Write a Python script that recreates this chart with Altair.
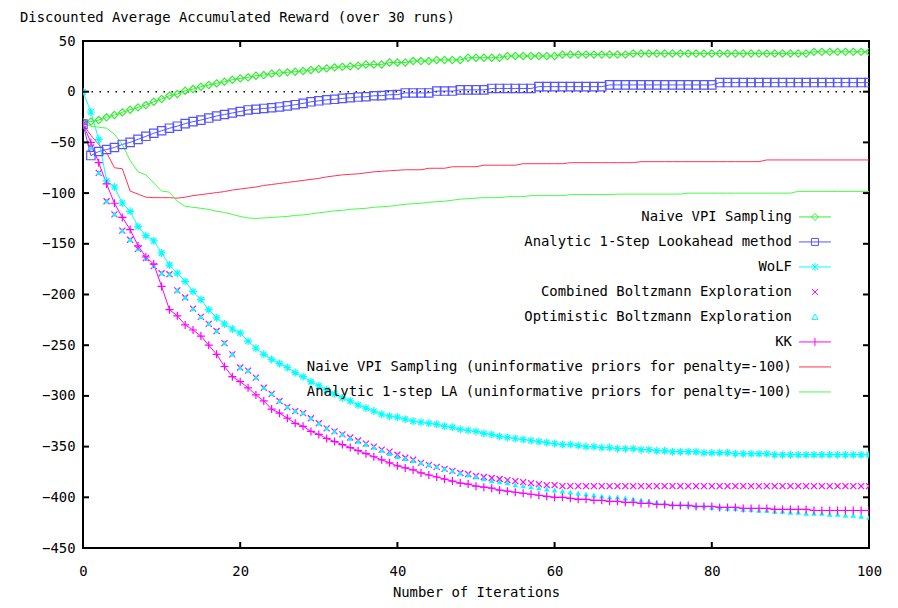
import altair as alt
import pandas as pd

iterations = list(range(101))

naive_vpi = [
    -30, -29.5, -28, -25.3, -23, -20.4, -17.8, -15.5, -13.2, -9.9,
    -7.2, -3.9, -2.3, 1, 2.6, 4.9, 6.6, 8.2, 9.9, 11.8,
    13.1, 14.1, 15.8, 16.4, 17.8, 18.4, 19.1, 19.7, 20.4, 21.4,
    22.4, 23, 24, 24.5, 25, 25.6, 26.8, 26.8, 26.8, 28.8,
    28.8, 28.8, 30.2, 30.2, 30.2, 31.3, 31.3, 31.3, 31.3, 33.5,
    33.5, 33.5, 33.5, 33.5, 35.2, 35.2, 35.2, 35.2, 35.2, 35.2,
    35.2, 36.6, 36.6, 36.6, 36.6, 36.6, 36.6, 36.6, 36.6, 36.6,
    37.7, 37.7, 37.7, 37.7, 37.7, 37.7, 37.7, 37.7, 37.7, 37.7,
    37.7, 37.7, 37.7, 37.7, 37.7, 37.7, 37.7, 37.7, 37.7, 37.7,
    37.7, 37.7, 37.7, 39.3, 39.3, 39.3, 39.3, 39.3, 39.3, 39.3,
    39.3,
]

analytic_la = [
    -32, -63, -59, -57, -55, -52, -50, -47, -44, -41,
    -38.5, -36, -34, -31.5, -29.5, -28, -26, -24, -22.5, -21,
    -19.5, -18, -17.3, -16.5, -15.8, -15, -14, -12.8, -11.5, -10,
    -9, -8, -7.5, -6.6, -6, -5.3, -5, -4, -3.9, -3,
    -2.9, -1.2, -1.2, -1.2, -1.2, 0.6, 0.6, 0.6, 1.8, 1.8,
    1.8, 1.8, 3.2, 3.2, 3.2, 3.2, 3.2, 3.2, 5, 5,
    5, 5, 5, 5, 5, 5, 5, 6.7, 6.7, 6.7,
    6.7, 6.7, 6.7, 6.7, 6.7, 6.7, 6.7, 6.7, 6.7, 6.7,
    6.7, 9, 9, 9, 9, 9, 9, 9, 9, 9,
    9, 9, 9, 9, 9, 9, 9, 9, 9, 9,
    9,
]

wolf = [
    0, -20, -47, -88, -94, -110, -118, -133, -142, -147,
    -159, -171, -179, -187, -197, -205, -215, -223, -229, -234,
    -238, -246, -253, -259, -264, -268, -272, -277, -281, -286,
    -290, -294, -298, -302, -305, -309, -312, -315, -318, -320,
    -321, -323, -325, -326, -327, -328, -330, -331, -333, -334,
    -335, -337, -338, -340, -341, -342, -343, -344, -345, -346,
    -347, -348, -348, -349, -350, -350, -351, -351, -352, -352,
    -352, -353, -353, -354, -354, -355, -355, -355, -355, -356,
    -356, -356, -356, -357, -357, -357, -357, -357, -358, -358,
    -358, -358, -358, -358, -358, -358, -358, -358, -358, -358,
    -358,
]

combined_boltzmann = [
    -32, -55, -80, -108, -121, -137, -146, -155, -164, -172,
    -179, -180, -196, -203, -214, -222, -229, -236, -248, -259,
    -272, -275, -282, -292, -298, -305, -311, -315, -317, -322,
    -327, -332, -335, -338, -341, -344, -347, -350, -353, -355,
    -358, -361, -363, -366, -368, -370, -372, -374, -376, -377,
    -379, -380, -381, -382, -383, -384, -385, -386, -387, -388,
    -388, -389, -389, -389, -389, -389, -389, -389, -389, -389,
    -389, -389, -389, -389, -389, -389, -389, -389, -389, -389,
    -389, -389, -389, -389, -389, -389, -389, -389, -389, -389,
    -389, -389, -389, -389, -389, -389, -389, -389, -389, -389,
    -389,
]

optimistic_boltzmann = [
    -32, -55, -80, -108, -121, -137, -146, -155, -164, -172,
    -179, -180, -196, -203, -214, -222, -229, -236, -248, -259,
    -272, -275, -282, -292, -298, -305, -311, -315, -317, -322,
    -327, -332, -335, -338, -342, -345, -348, -351, -354, -357,
    -360, -362, -364, -366, -368, -370, -372, -374, -376, -378,
    -380, -382, -384, -385, -386, -388, -389, -390, -391, -392,
    -393, -394, -395, -396, -397, -398, -399, -400, -400, -401,
    -402, -403, -404, -405, -406, -407, -407, -408, -409, -409,
    -410, -410, -411, -411, -412, -412, -413, -413, -414, -414,
    -415, -415, -416, -416, -416, -417, -417, -418, -418, -419,
    -420,
]

kk = [
    -32, -50, -70, -91, -110, -124, -136, -152, -163, -170,
    -192, -215, -221, -230, -235, -241, -250, -259, -271, -281,
    -286, -292, -299, -305, -313, -317, -322, -327, -330, -335,
    -338, -342, -345, -348, -351, -354, -357, -360, -363, -366,
    -369, -371, -373, -376, -378, -380, -382, -384, -386, -387,
    -389, -390, -391, -393, -394, -395, -396, -397, -398, -399,
    -400, -400, -401, -402, -402, -403, -403, -404, -404, -405,
    -405, -406, -406, -407, -407, -408, -408, -408, -409, -409,
    -409, -410, -410, -410, -411, -411, -411, -411, -412, -412,
    -412, -412, -412, -413, -413, -413, -413, -413, -413, -413,
    -413,
]

naive_vpi_uninf = [
    -32, -43, -52, -60, -75, -76, -98, -101, -104, -104.5,
    -104.5, -104.5, -105, -104, -102.5, -101.5, -100.5, -99.5, -98.5, -97,
    -96, -95, -94, -92.5, -91.5, -90.5, -89.5, -88.5, -87.5, -86.5,
    -85.5, -84, -83, -82, -81.5, -81, -80, -79, -78.5, -78,
    -77.5, -77, -77, -77, -75.5, -75.5, -75.5, -74, -74, -74,
    -74, -72.5, -72.5, -72.5, -72.5, -72.5, -71, -71, -71, -71,
    -71, -71, -70, -70, -70, -70, -70, -70, -70, -70,
    -70, -69, -69, -69, -69, -69, -69, -69, -69, -69,
    -69, -69, -69, -69, -69, -69, -69, -67.3, -67.3, -67.3,
    -67.3, -67.3, -67.3, -67.3, -67.3, -67.3, -67.3, -67.3, -67.3, -67.3,
    -67.3,
]

analytic_la_uninf = [
    -30, -34, -35, -36, -42, -52, -68, -79, -82, -90,
    -98, -99, -108, -113, -114, -115, -116, -118, -119, -121,
    -123, -124.5, -125, -124.5, -124, -123.5, -123, -122, -121.5, -120.5,
    -119.5, -118.5, -117.5, -117, -116, -115.5, -115, -114, -113.5, -113,
    -112, -111, -110.5, -110, -109, -108.5, -108, -107, -106, -105.5,
    -105, -104.5, -104.5, -104.5, -103.5, -103.5, -103.5, -102.5, -102.5, -102.5,
    -102.5, -102.5, -101.5, -101.5, -101.5, -101.5, -101.5, -101.5, -101, -101,
    -101, -101, -101, -101, -101, -101, -101, -100, -100, -100,
    -100, -100, -100, -100, -100, -100, -100, -100, -100, -100,
    -100, -98.3, -98.3, -98.3, -98.3, -98.3, -98.3, -98.3, -98.3, -98.3,
    -98.3,
]

series_names = [
    "Naive VPI Sampling",
    "Analytic 1-Step Lookahead method",
    "WoLF",
    "Combined Boltzmann Exploration",
    "Optimistic Boltzmann Exploration",
    "KK",
    "Naive VPI Sampling (uninformative priors for penalty=-100)",
    "Analytic 1-step LA (uninformative priors for penalty=-100)",
]
series_values = [naive_vpi, analytic_la, wolf, combined_boltzmann,
                 optimistic_boltzmann, kk, naive_vpi_uninf, analytic_la_uninf]
series_colors = ["#33ee33", "#5555ff", "#00ffff", "#ff00ff",
                 "#00ffff", "#ff00ff", "#ff3355", "#44ff44"]

x_ticks = [0, 20, 40, 60, 80, 100]
y_ticks = [-450, -400, -350, -300, -250, -200, -150, -100, -50, 0, 50]
zero_level = [0]

rows = []
for name, vals in zip(series_names, series_values):
    for it, v in zip(iterations, vals):
        rows.append({"series": name, "iteration": it, "reward": v})
df = pd.DataFrame(rows)

W, H = 786, 507
FONT = "DejaVu Sans Mono"
FS = 13.9

x_scale = alt.Scale(domain=[0, 100], nice=False, zero=False)
y_scale = alt.Scale(domain=[-450, 50], nice=False, zero=False)
x_enc = alt.X("iteration:Q", scale=x_scale,
              axis=alt.Axis(values=x_ticks, title="Number of Iterations", grid=False,
                            ticks=False, tickSize=0, domain=False, labelPadding=16,
                            titlePadding=8, labelFont=FONT, labelFontSize=FS,
                            titleFont=FONT, titleFontSize=FS, titleFontWeight="normal",
                            labelColor="black", titleColor="black", labelFlush=False))
y_enc = alt.Y("reward:Q", scale=y_scale,
              axis=alt.Axis(values=y_ticks, title=None, grid=False, ticks=False,
                            tickSize=0, domain=False, labelPadding=8, labelFont=FONT,
                            labelFontSize=FS, labelColor="black", labelFlush=False))

color_scale = alt.Scale(domain=series_names, range=series_colors)

legend_paths = [
    "M-3.2,0H3.2M0,-0.7L0.7,0L0,0.7L-0.7,0Z",
    "M-3.2,0H3.2M-0.7,-0.7H0.7V0.7H-0.7Z",
    "M-3.2,0H3.2M0,-0.8V0.8M-0.6,-0.6L0.6,0.6M-0.6,0.6L0.6,-0.6",
    "M-0.6,-0.6L0.6,0.6M-0.6,0.6L0.6,-0.6",
    "M0,-0.6L0.6,0.5H-0.6Z",
    "M-3.2,0H3.2M0,-0.8V0.8",
    "M-3.2,0H3.2",
    "M-3.2,0H3.2",
]
leg = alt.Legend(title=None, orient="none", legendX=725, legendY=169,
                 labelAlign="right", labelOffset={"expr": "-30"}, labelFont=FONT,
                 labelFontSize=FS, labelColor="black", labelLimit=1000,
                 symbolSize=100, symbolStrokeWidth=1, symbolOpacity=1,
                 rowPadding=10, padding=0)

base = alt.Chart(df)

line_series = [series_names[i] for i in (0, 1, 2, 5, 6, 7)]
lines = base.transform_filter(
    alt.FieldOneOfPredicate(field="series", oneOf=line_series)
).mark_line(strokeWidth=1, clip=True).encode(
    x=x_enc, y=y_enc, color=alt.Color("series:N", scale=color_scale, legend=leg)
)

marker_paths = {
    series_names[0]: ("M0,-1L1,0L0,1L-1,0Z", 52, False),
    series_names[1]: ("M-1,-1H1V1H-1Z", 70, False),
    series_names[2]: ("M-1,0H1M0,-1V1M-0.7,-0.7L0.7,0.7M-0.7,0.7L0.7,-0.7", 64, False),
    series_names[3]: ("M-1,-1L1,1M-1,1L1,-1", 36, False),
    series_names[4]: ("M0,-1L1,0.8H-1Z", 30, True),
    series_names[5]: ("M-1,0H1M0,-1V1", 64, False),
}
marker_layers = []
for i, name in enumerate(series_names[:6]):
    path, size, filled = marker_paths[name]
    marker_layers.append(
        base.transform_filter(alt.datum.series == name).mark_point(
            shape=path, size=size, filled=filled, strokeWidth=1.2,
            color=series_colors[i], opacity=1, clip=True
        ).encode(x=x_enc, y=y_enc)
    )

legend_layer = base.transform_filter(alt.datum.iteration == 0).mark_point(
    opacity=0, filled=False
).encode(
    x=x_enc, y=y_enc,
    color=alt.Color("series:N", scale=color_scale, legend=leg),
    shape=alt.Shape("series:N", scale=alt.Scale(domain=series_names, range=legend_paths), legend=leg),
)

zero_df = pd.DataFrame({"reward": zero_level})
zero_line = alt.Chart(zero_df).mark_rule(
    color="black", strokeWidth=1.5, strokeDash=[1.5, 6.5]
).encode(y=y_enc)

xt_df = pd.DataFrame({"iteration": x_ticks})
yt_df = pd.DataFrame({"reward": y_ticks})
TL = 6
ticks_bottom = alt.Chart(xt_df).mark_rule(color="black", strokeWidth=2).encode(
    x=x_enc, y=alt.value(H), y2=alt.value(H - TL))
ticks_top = alt.Chart(xt_df).mark_rule(color="black", strokeWidth=2).encode(
    x=x_enc, y=alt.value(0), y2=alt.value(TL))
ticks_left = alt.Chart(yt_df).mark_rule(color="black", strokeWidth=2).encode(
    y=y_enc, x=alt.value(0), x2=alt.value(TL))
ticks_right = alt.Chart(yt_df).mark_rule(color="black", strokeWidth=2).encode(
    y=y_enc, x=alt.value(W), x2=alt.value(W - TL))

chart = alt.layer(
    zero_line, legend_layer, lines, *marker_layers,
    ticks_bottom, ticks_top, ticks_left, ticks_right,
).resolve_scale(color="shared").properties(
    width=W, height=H,
    autosize=alt.AutoSizeParams(type="none"),
    padding={"left": 75, "top": 33, "right": 20, "bottom": 52},
    background="white",
    title=alt.TitleParams(
        "Discounted Average Accumulated Reward (over 30 runs)",
        anchor="start", frame="group", dx=-63, offset=2, baseline="middle",
        font=FONT, fontSize=FS, fontWeight="normal", color="black",
    ),
).configure_view(stroke="black", strokeWidth=2)

chart.save("out.html", embed_options={"renderer": "svg", "actions": False})
